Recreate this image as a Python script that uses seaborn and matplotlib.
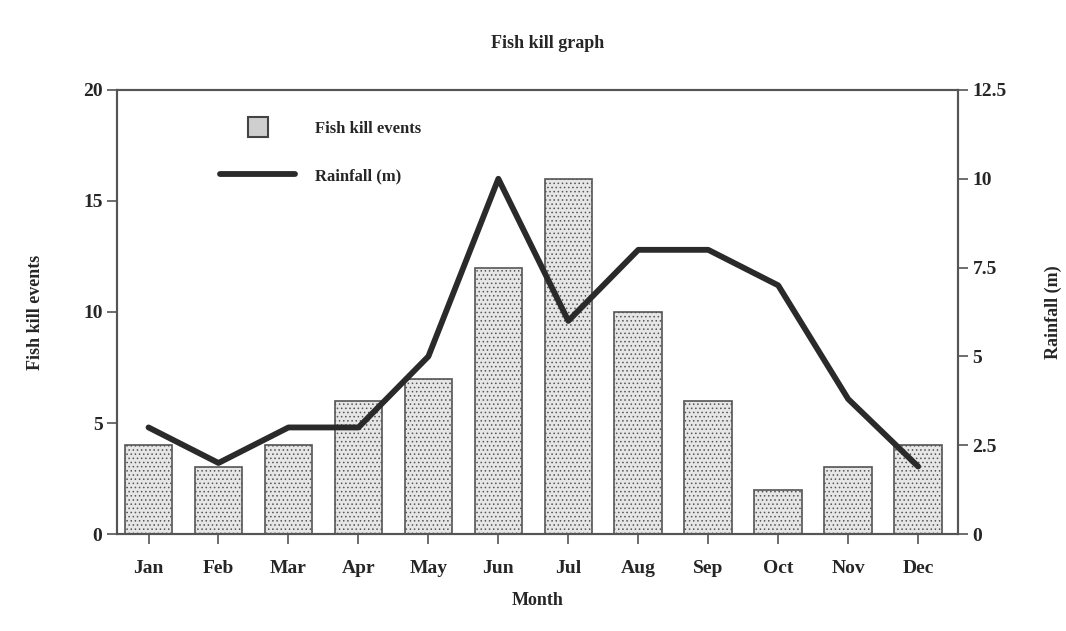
import numpy as np
import pandas as pd
import matplotlib
matplotlib.use("Agg")
import matplotlib.pyplot as plt
import seaborn as sns
from matplotlib.lines import Line2D

months = ["Jan", "Feb", "Mar", "Apr", "May", "Jun", "Jul", "Aug", "Sep", "Oct", "Nov", "Dec"]
fish_kill = [4, 3, 4, 6, 7, 12, 16, 10, 6, 2, 3, 4]
rainfall = [3, 2, 3, 3, 5, 10, 6, 8, 8, 7, 3.8, 1.9]
left_ticks = [0, 5, 10, 15, 20]
right_ticks = [0, 2.5, 5, 7.5, 10, 12.5]
right_labels = ["0", "2.5", "5", "7.5", "10", "12.5"]

sns.set_theme(style="ticks")
plt.rcParams["font.family"] = ["Liberation Serif", "DejaVu Serif"]
plt.rcParams["hatch.color"] = "#9a9a9a"
plt.rcParams["hatch.linewidth"] = 0.6

df = pd.DataFrame({"Month": months, "Fish": fish_kill, "Rain": rainfall})
df["pos"] = range(len(months))

fig = plt.figure(figsize=(10.66, 6.31), dpi=100)
ax = fig.add_axes([0.1098, 0.1537, 0.7889, 0.7037])

sns.barplot(data=df, x="Month", y="Fish", ax=ax, color="#e6e6e6",
            width=0.68, edgecolor="#555555", linewidth=1.2, saturation=1)
for p in ax.patches:
    p.set_hatch("....")

ax.set_ylim(0, 20)
ax.set_xlim(-0.45, 11.57)
ax.set_yticks(left_ticks)
ax.set_yticklabels([str(t) for t in left_ticks], fontsize=14, fontweight="bold")
ax.set_xticks(range(len(months)))
ax.set_xticklabels(months, fontsize=14, fontweight="bold")
ax.set_xlabel("Month", fontsize=13, fontweight="bold")
ax.xaxis.set_label_coords(0.5, -0.13)
ax.set_ylabel("Fish kill events", fontsize=13, fontweight="bold")
ax.yaxis.set_label_coords(-0.087, 0.5)
ax.tick_params(axis="both", length=7, width=1.2, color="#555555", direction="out")
ax.tick_params(axis="x", pad=12)

ax2 = ax.twinx()
sns.lineplot(data=df, x="pos", y="Rain", ax=ax2, color="#2a2a2a", linewidth=4.2)
ax2.set_ylim(0, 12.5)
ax2.set_xlim(-0.45, 11.57)
ax2.set_yticks(right_ticks)
ax2.set_yticklabels(right_labels, fontsize=14, fontweight="bold")
ax2.set_ylabel("Rainfall (m)", fontsize=13, fontweight="bold", rotation=90)
ax2.yaxis.set_label_coords(1.103, 0.5)
ax2.tick_params(axis="y", length=7, width=1.2, color="#555555", direction="out")
ax2.set_xlabel("")

for a in (ax, ax2):
    for s in a.spines.values():
        s.set_visible(True)
        s.set_color("#555555")
        s.set_linewidth(1.5)

handles = [Line2D([0], [0], linestyle="none", marker="s", markersize=14,
                  markerfacecolor="#cfcfcf", markeredgecolor="#444444", markeredgewidth=1.5,
                  label="Fish kill events"),
           Line2D([0], [0], color="#2a2a2a", linewidth=4.2, label="Rainfall (m)")]
leg = ax2.legend(handles=handles, loc="upper left", bbox_to_anchor=(0.105, 0.965),
                 frameon=False, prop={"family": "Liberation Serif", "weight": "bold", "size": 12},
                 handlelength=4.5, handletextpad=1.2, labelspacing=1.9)

fig.suptitle("Fish kill graph", x=0.514, y=0.945, fontsize=13, fontweight="bold")

fig.savefig("out.png", dpi=100, facecolor="white")
